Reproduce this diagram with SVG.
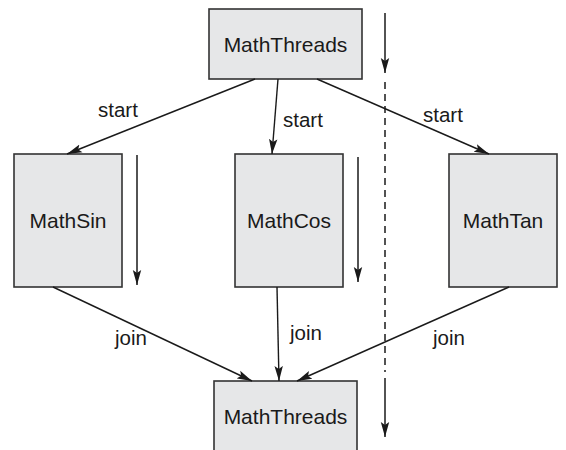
<svg xmlns="http://www.w3.org/2000/svg" width="566" height="450" viewBox="0 0 566 450">
  <defs>
    <marker id="arrow" markerWidth="16" markerHeight="10" refX="15" refY="5" orient="auto" markerUnits="userSpaceOnUse">
      <path d="M0,0.8 L15,5 L0,9.2 L3,5 Z" fill="#1a1a1a"/>
    </marker>
    <style>
      .box { fill: #e6e7e8; stroke: #333; stroke-width: 1.6; }
      .name { font-family: "Liberation Sans", Arial, sans-serif; font-size: 21px; fill: #1a1a1a; text-anchor: middle; }
      .label { font-family: "Liberation Sans", Arial, sans-serif; font-size: 20.5px; fill: #1a1a1a; }
      .edge { stroke: #1a1a1a; stroke-width: 1.4; fill: none; marker-end: url(#arrow); }
      .time { stroke: #1a1a1a; stroke-width: 1.5; fill: none; }
      .dash { stroke: #1a1a1a; stroke-width: 1.5; fill: none; stroke-dasharray: 7 5; }
    </style>
  </defs>

  <!-- threads -->
  <g id="main-top">
    <rect class="box" x="209" y="9" width="153" height="70"/>
    <text class="name" x="285.5" y="52">MathThreads</text>
  </g>
  <g id="math-sin">
    <rect class="box" x="14" y="154" width="108" height="133"/>
    <text class="name" x="68" y="228">MathSin</text>
  </g>
  <g id="math-cos">
    <rect class="box" x="235" y="154" width="108" height="133"/>
    <text class="name" x="289" y="228">MathCos</text>
  </g>
  <g id="math-tan">
    <rect class="box" x="449" y="154" width="108" height="133"/>
    <text class="name" x="503" y="228">MathTan</text>
  </g>
  <g id="main-bottom">
    <rect class="box" x="214" y="381" width="143" height="80"/>
    <text class="name" x="285.5" y="424">MathThreads</text>
  </g>

  <!-- start / join connectors -->
  <g id="connectors">
    <line class="edge" x1="255" y1="79" x2="67" y2="154"/>
    <line class="edge" x1="278" y1="79" x2="272" y2="154"/>
    <line class="edge" x1="317" y1="79" x2="489" y2="154"/>
    <line class="edge" x1="53" y1="287" x2="252" y2="381"/>
    <line class="edge" x1="277" y1="287" x2="279" y2="381"/>
    <line class="edge" x1="509" y1="287" x2="297" y2="381"/>

    <!-- time lines -->
    <line class="time" x1="385" y1="13" x2="385" y2="73" marker-end="url(#arrow)"/>
    <line class="dash" x1="385" y1="82" x2="385" y2="372"/>
    <line class="time" x1="385" y1="378" x2="385" y2="437" marker-end="url(#arrow)"/>
    <line class="time" x1="137" y1="155" x2="137" y2="285" marker-end="url(#arrow)"/>
    <line class="time" x1="358" y1="157" x2="358" y2="282" marker-end="url(#arrow)"/>
  </g>

  <g id="labels">
    <text class="label" x="98" y="117">start</text>
    <text class="label" x="283" y="127">start</text>
    <text class="label" x="423" y="122">start</text>
    <text class="label" x="115" y="345">join</text>
    <text class="label" x="290" y="340">join</text>
    <text class="label" x="433" y="345">join</text>
  </g>
</svg>
